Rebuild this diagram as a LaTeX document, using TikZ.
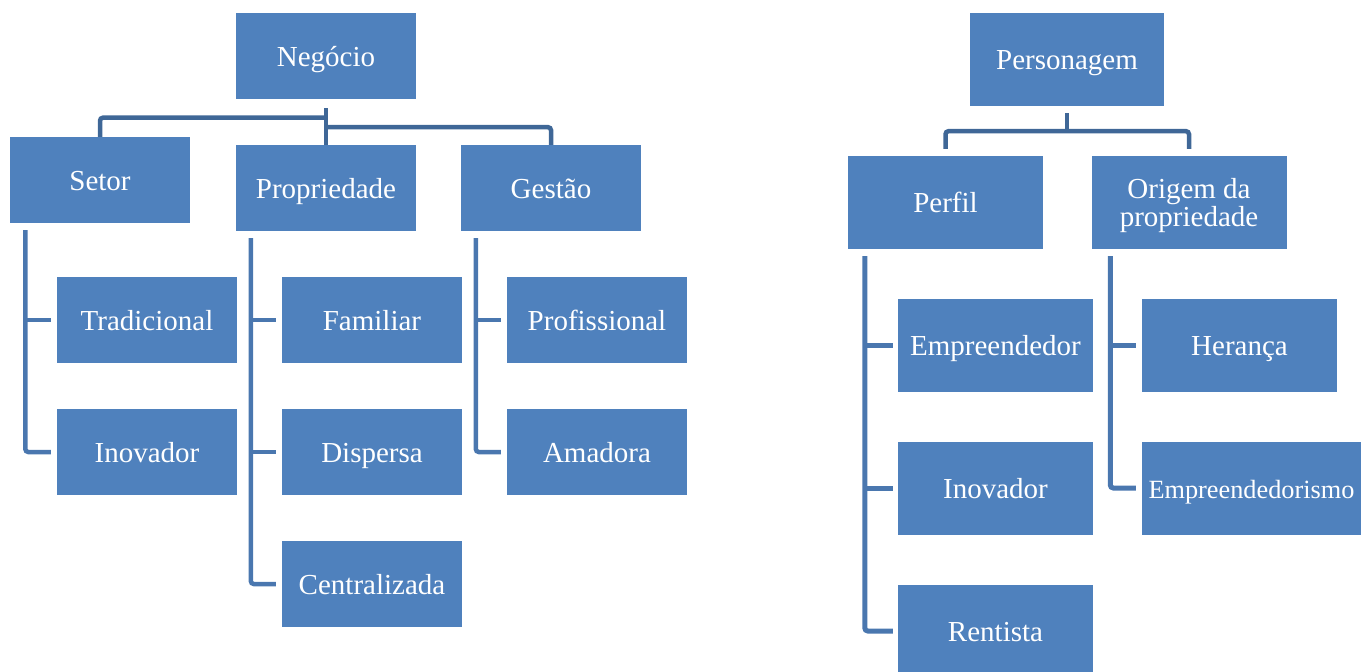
\documentclass[tikz,border=0pt]{standalone}
\usepackage{fontspec}
\setmainfont{Liberation Serif}
\usetikzlibrary{calc}
\definecolor{boxblue}{HTML}{4F81BD}
\definecolor{toplinec}{HTML}{3F6797}
\definecolor{sidelinec}{HTML}{4A77AF}
\begin{document}
\begin{tikzpicture}[x=1pt,y=-1pt,
  boxbase/.style={rectangle, fill=boxblue, text=white, inner sep=0pt, anchor=center,
    font=\fontsize{29}{24}\selectfont},
  oneline/.style={text height=20pt, text depth=0pt},
  lbox/.style={boxbase, oneline, minimum width=180pt, minimum height=86pt},
  rbox/.style={boxbase, oneline, minimum width=195pt, minimum height=93pt},
  topconn/.style={draw=toplinec, line width=4.5pt, rounded corners=3pt},
  sideconn/.style={draw=sidelinec, line width=4.5pt, rounded corners=3pt},
  rsideconn/.style={draw=sidelinec, line width=5pt, rounded corners=3pt}]
\useasboundingbox (0,0) rectangle (1361,672);

% ---- left tree ----
\node[lbox] (neg) at (326,56) {Negócio};
\node[lbox] (setor) at (100,180) {Setor};
\node[lbox] (prop) at (326,188) {Propriedade};
\node[lbox] (gest) at (551,188) {Gestão};
\node[lbox] (trad) at (147,320) {Tradicional};
\node[lbox] (inov1) at (147,452) {Inovador};
\node[lbox] (fam) at (372,320) {Familiar};
\node[lbox] (disp) at (372,452) {Dispersa};
\node[lbox] (cent) at (372,584) {Centralizada};
\node[lbox] (prof) at (597,320) {Profissional};
\node[lbox] (amad) at (597,452) {Amadora};

\draw[topconn] ($(neg.south)+(0,9)$) -- (prop.north);
\draw[topconn] ($(neg.south)+(0,18.5)$) -| (setor.north);
\draw[topconn] ($(neg.south)+(0,28)$) -| (gest.north);

\coordinate (sv) at ($(setor.south west)+(15.5,7)$);
\draw[sideconn] (sv) |- ($(inov1.west)+(-6,0)$);
\draw[sideconn] (sv |- trad.west) -- ($(trad.west)+(-6,0)$);

\coordinate (pv) at ($(prop.south west)+(15,7)$);
\draw[sideconn] (pv) |- ($(cent.west)+(-6,0)$);
\draw[sideconn] (pv |- fam.west) -- ($(fam.west)+(-6,0)$);
\draw[sideconn] (pv |- disp.west) -- ($(disp.west)+(-6,0)$);

\coordinate (gv) at ($(gest.south west)+(15,7)$);
\draw[sideconn] (gv) |- ($(amad.west)+(-6,0)$);
\draw[sideconn] (gv |- prof.west) -- ($(prof.west)+(-6,0)$);

% ---- right tree ----
\node[rbox, minimum width=194pt] (pers) at (1067,59.5) {Personagem};
\node[rbox] (perf) at (945.5,202.5) {Perfil};
\node[boxbase, align=center, minimum width=195pt, minimum height=93pt] (orig) at (1189,202.5) {\rule{0pt}{26pt}Origem da\\propriedade};
\node[rbox] (empr) at (995.5,345) {Empreendedor};
\node[rbox] (inov2) at (995.5,488) {Inovador};
\node[rbox] (rent) at (995.5,631) {Rentista};
\node[rbox] (her) at (1239.5,345) {Herança};
\node[rbox, minimum width=219pt, font=\fontsize{26.3}{24}\selectfont] (empo) at (1251.5,488) {Empreendedorismo};

\draw[topconn] ($(pers.south)+(0,7)$) -- ($(pers.south)+(0,25)$);
\draw[topconn] ($(perf.north)+(0,-7)$) |- ($(pers.south)+(0,25)$) -| ($(orig.north)+(0,-7)$);

\coordinate (fv) at ($(perf.south west)+(17,7)$);
\draw[rsideconn] (fv) |- ($(rent.west)+(-5,0)$);
\draw[rsideconn] (fv |- empr.west) -- ($(empr.west)+(-5,0)$);
\draw[rsideconn] (fv |- inov2.west) -- ($(inov2.west)+(-5,0)$);

\coordinate (ov) at ($(orig.south west)+(19,7)$);
\draw[rsideconn] (ov) |- ($(empo.west)+(-6,0)$);
\draw[rsideconn] (ov |- her.west) -- ($(her.west)+(-6,0)$);
\end{tikzpicture}
\end{document}
